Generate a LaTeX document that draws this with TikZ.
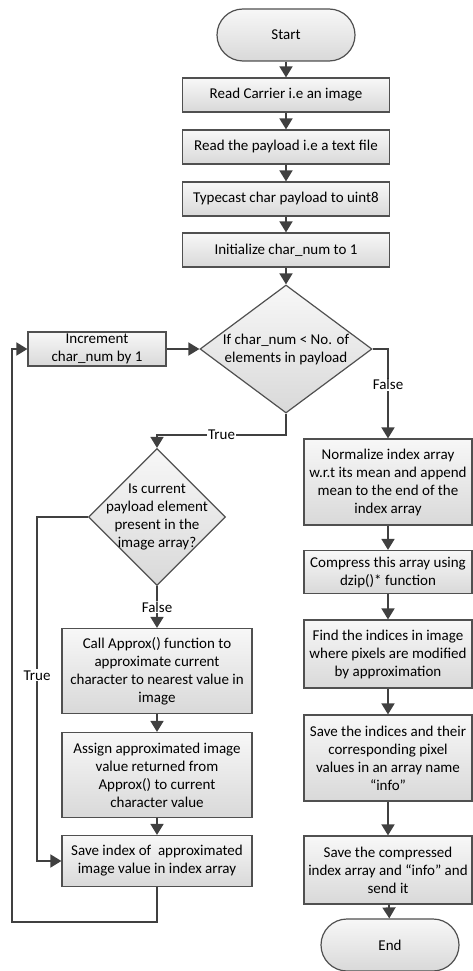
\documentclass[tikz,border=0pt]{standalone}
\usepackage{fontspec}
\setmainfont{Carlito}
\usetikzlibrary{shapes.geometric}
\usetikzlibrary{arrows.meta}
\definecolor{linegray}{HTML}{404040}
\definecolor{edgegray}{HTML}{505050}
\tikzset{
  procbox/.style={rectangle, draw=edgegray, line width=1.2pt, top color=gray!6, bottom color=gray!30, inner sep=0pt, align=center},
  term/.style={procbox, rounded corners=26pt, minimum width=138pt, minimum height=52pt},
  dec/.style={diamond, draw=edgegray, line width=1.2pt, top color=gray!6, bottom color=gray!30, inner sep=0pt},
  arr/.style={draw=linegray, line width=1.7pt, -{Triangle[length=11pt,width=13pt]}},
  lbl/.style={fill=white, inner sep=1pt}
}
\begin{document}
\begin{tikzpicture}[x=1pt,y=-1pt,font=\fontsize{15}{18}\selectfont]
\useasboundingbox (0,0) rectangle (473,971);
% main column
\node[term] (start) at (286,35) {Start};
\node[procbox,minimum width=207pt,minimum height=34pt] (read) at (286,95) {Read Carrier i.e an image};
\node[procbox,minimum width=207pt,minimum height=34pt] (payload) at (286,147) {Read the payload i.e a text file};
\node[procbox,minimum width=207pt,minimum height=34pt] (typecast) at (286,199) {Typecast char payload to uint8};
\node[procbox,minimum width=207pt,minimum height=34pt] (init) at (286,250) {Initialize char\_num to 1};
\node[dec,minimum width=172pt,minimum height=128pt,label={[align=center]center:If char\_num < No. of\\elements in payload}] (cond) at (286,349) {};
\node[procbox,minimum width=138pt,minimum height=34pt] (incr) at (97,349) {Increment\\char\_num by 1};
% left column
\node[dec,minimum width=137pt,minimum height=137pt,label={[align=center]center:Is current\\payload element\\present in the\\image array?}] (isin) at (157,517) {};
\node[procbox,minimum width=190pt,minimum height=85pt] (approx) at (157,671) {Call Approx() function to\\approximate current\\character to nearest value in\\image};
\node[procbox,minimum width=190pt,minimum height=85pt] (assign) at (157,775) {Assign approximated image\\value returned from\\Approx() to current\\character value};
\node[procbox,minimum width=190pt,minimum height=51pt] (saveidx) at (157,861) {Save index of~ approximated\\image value in index array};
% right column
\node[procbox,minimum width=168pt,minimum height=86pt] (norm) at (388,482) {Normalize index array\\w.r.t its mean and append\\mean to the end of the\\index array};
\node[procbox,minimum width=168pt,minimum height=43pt] (compress) at (388,572) {Compress this array using\\dzip()* function};
\node[procbox,minimum width=168pt,minimum height=68pt] (find) at (388,654) {Find the indices in image\\where pixels are modified\\by approximation};
\node[procbox,minimum width=168pt,minimum height=86pt] (saveinfo) at (388,758) {Save the indices and their\\corresponding pixel\\values in an array name\\“info”};
\node[procbox,minimum width=168pt,minimum height=68pt] (savecomp) at (388,870) {Save the compressed\\index array and “info” and\\send it};
\node[term] (end) at (390,945) {End};
\coordinate (tj) at (286,435);
\coordinate (tl) at (37,517);
\coordinate (lb) at (12,922);
% connectors
\draw[arr] (start) -- (read);
\draw[arr] (read) -- (payload);
\draw[arr] (payload) -- (typecast);
\draw[arr] (typecast) -- (init);
\draw[arr] (init) -- (cond.north);
\draw[arr] (incr) -- (cond.west);
\draw[arr] (cond.east) -| node[lbl,pos=0.7] {False} (norm.north);
\draw[arr] (cond.south) -- (tj) -| node[lbl,pos=0.25] {True} (isin.north);
\draw[arr] (isin.west) -- (tl) |- node[lbl,pos=0.23] {True} (saveidx.west);
\draw[arr] (isin.south) -- node[lbl] {False} (approx);
\draw[arr] (approx) -- (assign);
\draw[arr] (assign) -- (saveidx);
\draw[arr] (saveidx.south) |- (lb) |- (incr.west);
\draw[arr] (norm) -- (compress);
\draw[arr] (compress) -- (find);
\draw[arr] (find) -- (saveinfo);
\draw[arr] (saveinfo) -- (savecomp);
\draw[arr] (savecomp) -- (end);
\end{tikzpicture}
\end{document}
